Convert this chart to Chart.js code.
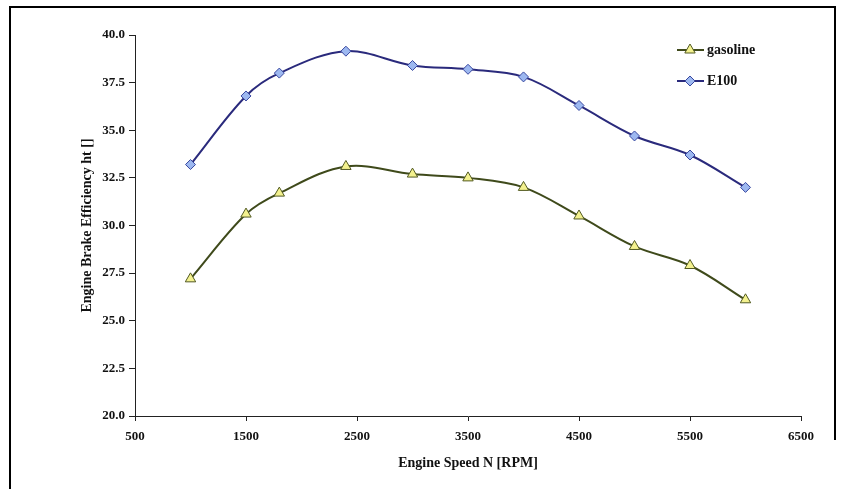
<!DOCTYPE html>
<html>
<head>
<meta charset="utf-8">
<script src="https://cdn.jsdelivr.net/npm/chart.js@4/dist/chart.umd.min.js"></script>
<style>
    html, body { margin: 0; padding: 0; background: #fff; }
    #wrap { width: 845px; height: 489px; position: relative; }
</style>
</head>
<body>
<div id="wrap"><canvas id="chartEfficiency"></canvas></div>
<script>
// engine speed in RPM
const rpm = [1000, 1500, 1800, 2400, 3000, 3500, 4000, 4500, 5000, 5500, 6000];
// brake efficiency values
const gasoline = [27.2, 30.6, 31.7, 33.1, 32.7, 32.5, 32.0, 30.5, 28.9, 27.9, 26.1];
const e100 = [33.2, 36.8, 38.0, 39.15, 38.4, 38.2, 37.8, 36.3, 34.7, 33.7, 32.0];
const seriesNames = ['gasoline', 'E100'];
const xTitle = 'Engine Speed N [RPM]';
const yTitle = 'Engine Brake Efficiency ht []';

(function() {
    const serif = "'Liberation Serif', 'Times New Roman', serif";

    function toPoints(values) {
        return values.map(function (v, i) {
            return { x: rpm[i], y: v };
        });
    }

    // picture frame and the Excel style legend in the upper right
    const decorations = {
        id: 'decorations',
        afterDraw: function (chart) {
            const ctx = chart.ctx;
            ctx.save();
            ctx.strokeStyle = '#000';
            ctx.lineWidth = 2;
            ctx.beginPath();
            ctx.moveTo(10, 489);
            ctx.lineTo(10, 7);
            ctx.lineTo(835, 7);
            ctx.lineTo(835, 440);
            ctx.stroke();

            const rows = [50, 81];
            chart.data.datasets.forEach(function (ds, i) {
                const y = rows[i];
                ctx.strokeStyle = ds.borderColor;
                ctx.lineWidth = ds.borderWidth;
                ctx.beginPath();
                ctx.moveTo(677, y);
                ctx.lineTo(704, y);
                ctx.stroke();
                ctx.fillStyle = ds.pointBackgroundColor;
                ctx.strokeStyle = ds.pointBorderColor;
                ctx.lineWidth = 1;
                Chart.helpers.drawPoint(ctx, {
                    pointStyle: ds.pointStyle,
                    radius: ds.pointRadius,
                    rotation: 0,
                    borderWidth: 1
                }, 690, y);
                ctx.fillStyle = '#111';
                ctx.font = 'bold 14px ' + serif;
                ctx.textBaseline = 'middle';
                ctx.textAlign = 'left';
                ctx.fillText(ds.label, 707, y);
            });
            ctx.restore();
        }
    };

    const gasolineSet = {
        label: seriesNames[0],
        data: toPoints(gasoline),
        borderColor: '#3f4a1b',
        borderWidth: 2,
        pointStyle: 'triangle',
        pointRadius: 6,
        pointBackgroundColor: '#f3f18e',
        pointBorderColor: '#525a22',
        pointBorderWidth: 1,
        tension: 0.35
    };

    const e100Set = {
        label: seriesNames[1],
        data: toPoints(e100),
        borderColor: '#2a2a7c',
        borderWidth: 2,
        pointStyle: 'rectRot',
        pointRadius: 5,
        pointBackgroundColor: '#9db8f0',
        pointBorderColor: '#38479f',
        pointBorderWidth: 1,
        tension: 0.35
    };

    new Chart('chartEfficiency', {
        type: 'line',
        data: { datasets: [gasolineSet, e100Set] },
        options: {
            responsive: true,
            maintainAspectRatio: false,
            animation: false,
            layout: { padding: { left: 75, top: 35, right: 44, bottom: 13 } },
            plugins: {
                legend: { display: false },
                tooltip: { enabled: false }
            },
            scales: {
                x: {
                    type: 'linear',
                    min: 500,
                    max: 6500,
                    afterFit: function (scale) { scale.height = 60; },
                    grid: { drawOnChartArea: false, drawTicks: true, tickLength: 5, color: '#222' },
                    border: { color: '#222', width: 1 },
                    ticks: {
                        stepSize: 1000,
                        padding: 8,
                        color: '#111',
                        font: { family: serif, size: 13, weight: 'bold' },
                        callback: function (v) { return String(v); }
                    },
                    title: {
                        display: true,
                        text: xTitle,
                        color: '#111',
                        font: { family: serif, size: 14, weight: 'bold' }
                    }
                },
                y: {
                    min: 20,
                    max: 40,
                    afterFit: function (scale) { scale.width = 60; },
                    grid: { drawOnChartArea: false, drawTicks: true, tickLength: 6, color: '#222' },
                    border: { color: '#222', width: 1 },
                    ticks: {
                        stepSize: 2.5,
                        padding: 4,
                        color: '#111',
                        font: { family: serif, size: 13, weight: 'bold' },
                        callback: function (v) { return v.toFixed(1); }
                    },
                    title: {
                        display: true,
                        text: yTitle,
                        color: '#111',
                        font: { family: serif, size: 14, weight: 'bold' }
                    }
                }
            }
        },
        plugins: [decorations]
    });
})();
</script>
</body>
</html>
